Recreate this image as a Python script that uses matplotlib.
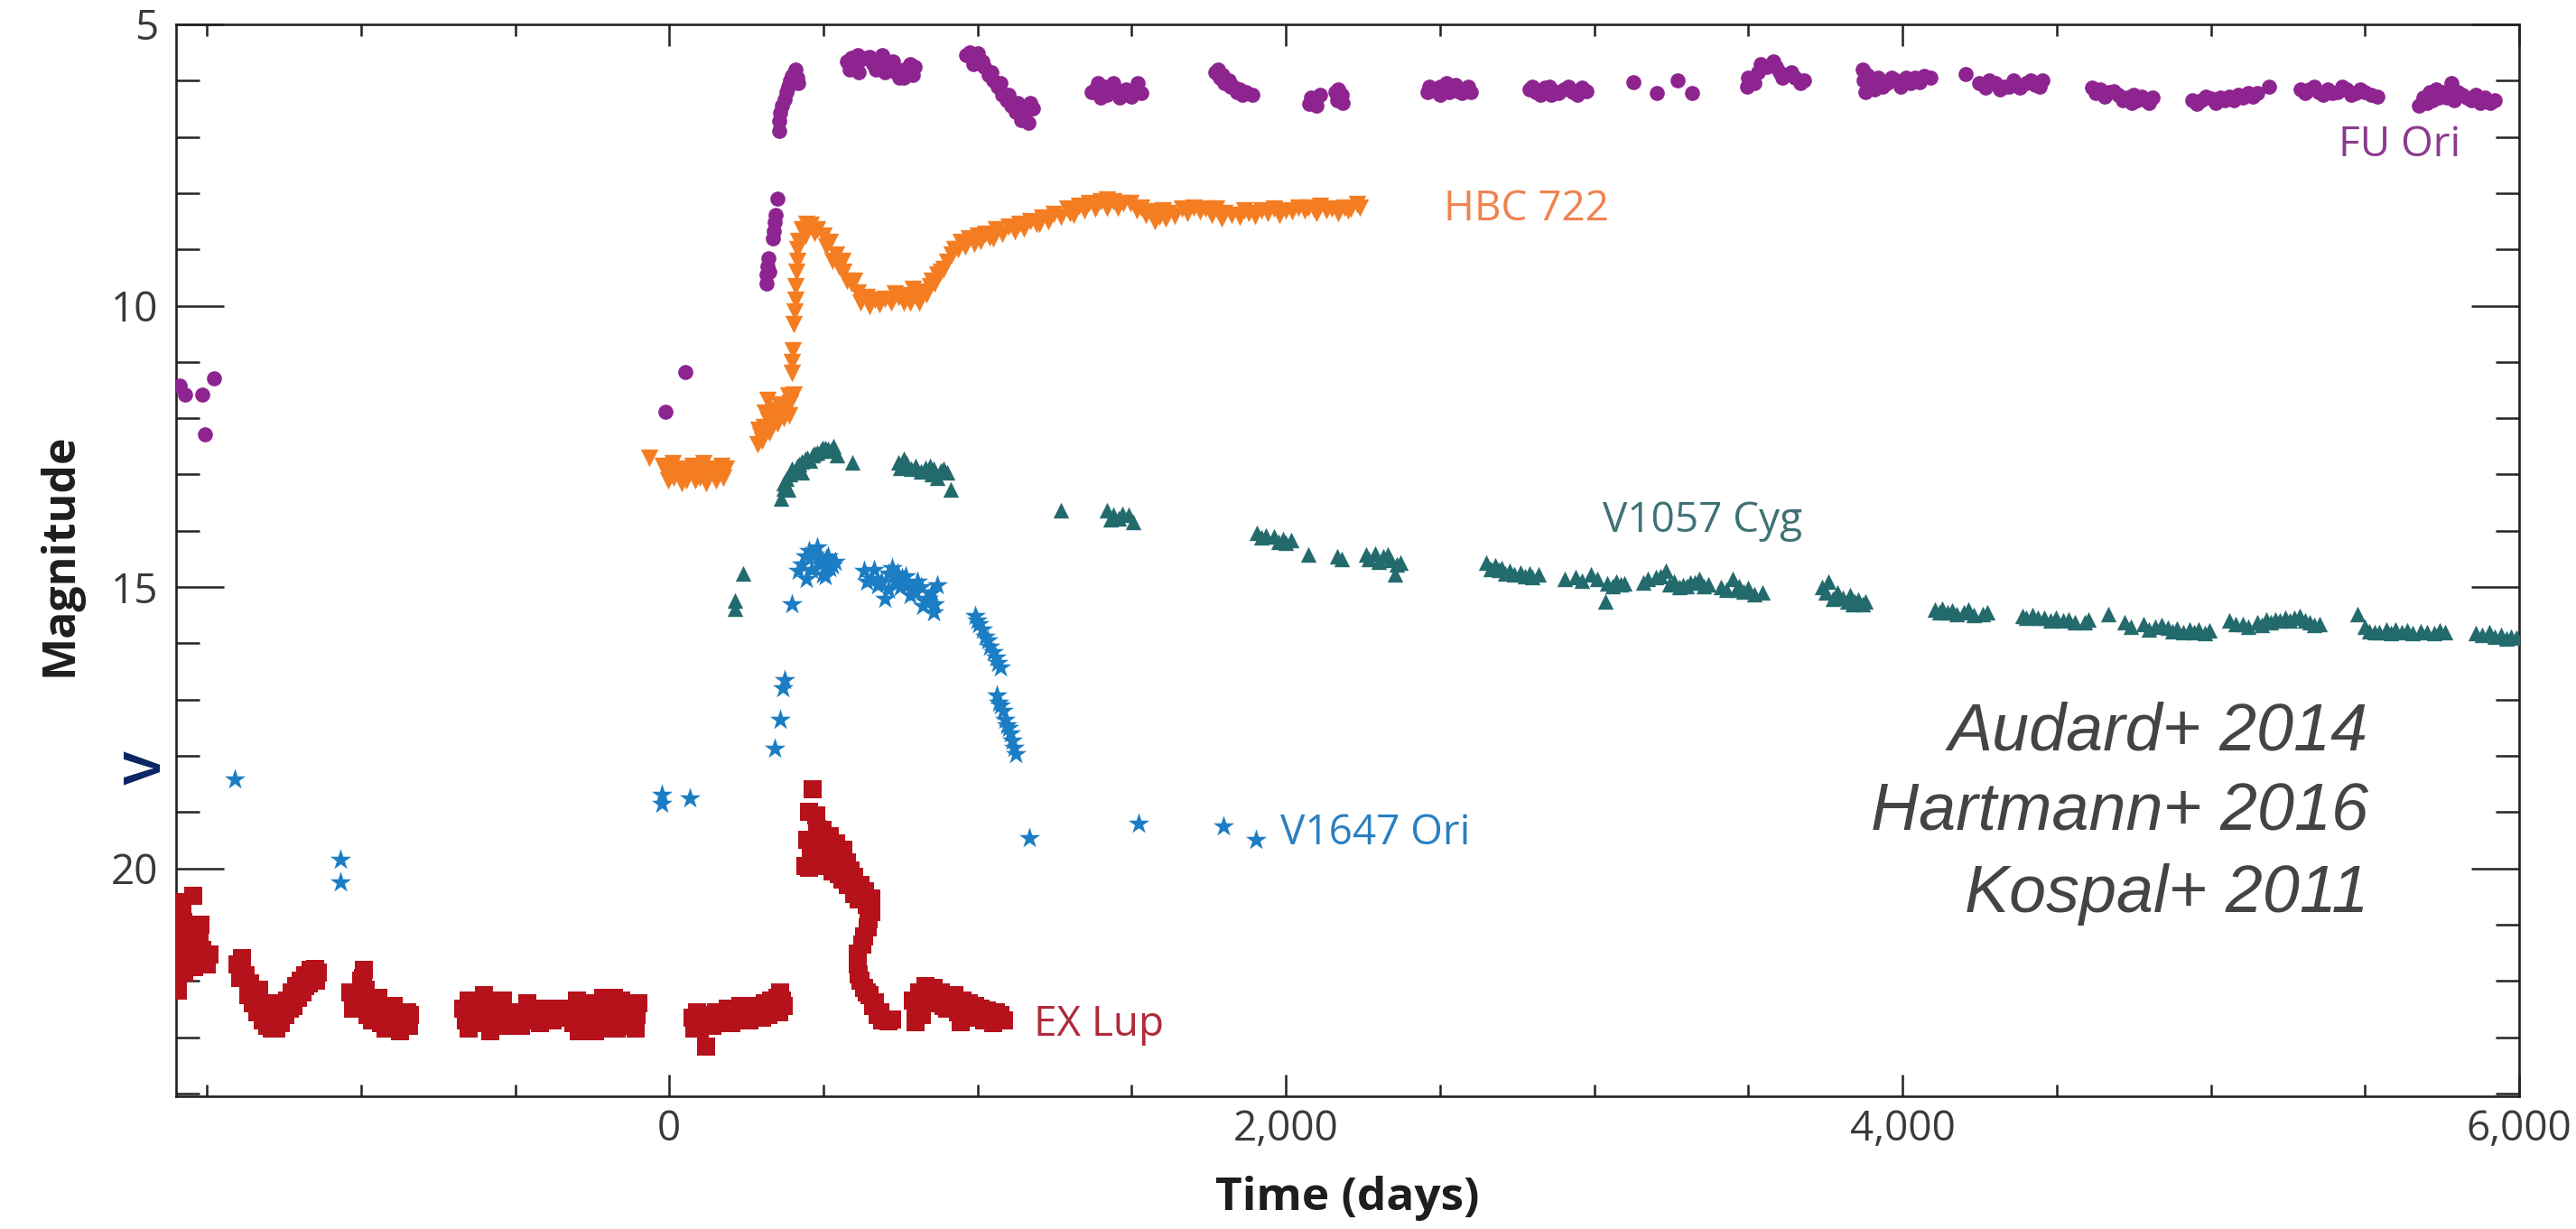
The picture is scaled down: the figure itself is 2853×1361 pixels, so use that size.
import matplotlib
matplotlib.use("Agg")
import matplotlib.pyplot as plt
from matplotlib.ticker import MultipleLocator, FixedLocator

# ---------------- data: (time [days], magnitude) ----------------
fu_ori = [
    (-1589, 11.42), (-1572, 11.58), (-1516, 11.58), (-1478, 11.29), (-1507, 12.28), (-12, 11.88), (53, 11.18),
    (350, 8.09), (345, 8.38), (343, 8.52), (340, 8.68), (337, 8.80), (322, 9.15), (318, 9.30), (314, 9.45), (316, 9.60), (325, 9.40),
    (357, 6.89), (355, 6.72), (360, 6.58), (366, 6.45), (375, 6.34), (380, 6.20), (386, 6.10), (392, 6.00), (398, 5.91),
    (405, 5.85), (410, 5.80), (419, 6.04), (415, 5.95),
    (575, 5.65), (590, 5.60), (605, 5.70), (620, 5.62), (640, 5.60), (660, 5.70), (680, 5.66), (700, 5.62), (720, 5.75),
    (735, 5.85), (745, 5.95), (760, 5.80), (780, 5.70), (795, 5.75), (700, 5.85), (650, 5.58), (760, 5.95),
    (585, 5.80), (615, 5.85), (670, 5.80), (725, 5.65), (690, 5.55), (610, 5.55), (770, 5.85), (790, 5.90),
    (963, 5.55), (975, 5.50), (990, 5.60), (1005, 5.62), (1020, 5.75), (1035, 5.90), (1050, 6.00), (1065, 6.10), (1080, 6.25),
    (1095, 6.35), (1110, 6.45), (1125, 6.55), (1140, 6.70), (1155, 6.55), (1170, 6.40), (1180, 6.50), (1000, 5.52),
    (985, 5.70), (1015, 5.65), (1045, 5.85), (1075, 6.05), (1100, 6.25), (1130, 6.40), (1150, 6.65), (1165, 6.75),
    (1370, 6.20), (1390, 6.05), (1410, 6.10), (1430, 6.20), (1450, 6.15), (1470, 6.25), (1490, 6.20), (1510, 6.15), (1530, 6.22),
    (1400, 6.30), (1460, 6.30), (1380, 6.15), (1420, 6.25), (1440, 6.05), (1480, 6.15), (1500, 6.28), (1520, 6.05),
    (1770, 5.85), (1785, 5.95), (1800, 6.05), (1815, 6.00), (1830, 6.10), (1850, 6.15), (1870, 6.20), (1890, 6.25),
    (1780, 5.80), (1795, 5.90), (1820, 6.10), (1840, 6.20), (1860, 6.25),
    (2075, 6.42), (2095, 6.35), (2110, 6.25), (2160, 6.20), (2175, 6.30), (2185, 6.40), (2170, 6.15),
    (2080, 6.30), (2100, 6.45), (2165, 6.35), (2180, 6.25),
    (2460, 6.20), (2480, 6.15), (2500, 6.10), (2520, 6.05), (2540, 6.12), (2560, 6.18), (2580, 6.15), (2600, 6.20), (2500, 6.25),
    (2465, 6.10), (2490, 6.20), (2510, 6.18), (2530, 6.20), (2550, 6.08), (2570, 6.22), (2590, 6.10),
    (2790, 6.15), (2810, 6.20), (2840, 6.12), (2870, 6.18), (2900, 6.15), (2930, 6.20), (2960, 6.12), (2975, 6.18), (2860, 6.25),
    (2800, 6.10), (2825, 6.25), (2855, 6.10), (2885, 6.22), (2915, 6.10), (2945, 6.25),
    (3128, 6.03), (3202, 6.22), (3269, 5.99), (3316, 6.22),
    (3495, 6.10), (3510, 6.00), (3530, 5.85), (3560, 5.75), (3580, 5.65), (3600, 5.85), (3620, 5.90), (3650, 5.95), (3680, 6.00),
    (3500, 5.95), (3520, 6.05), (3540, 5.70), (3590, 5.75), (3610, 5.95), (3640, 5.85), (3670, 6.05),
    (3870, 5.80), (3875, 6.00), (3880, 6.20), (3900, 6.10), (3920, 5.95), (3950, 6.05), (3980, 6.00), (4010, 5.95), (4040, 5.95),
    (4070, 5.92), (4090, 5.95), (3885, 5.90), (3910, 6.15), (3935, 6.10), (3965, 5.95), (3995, 6.10), (4025, 6.05), (4055, 6.02),
    (4205, 5.89), (4250, 6.05), (4270, 6.12), (4300, 6.05), (4330, 6.10), (4360, 6.00), (4400, 6.05), (4430, 6.08), (4455, 6.00),
    (4280, 6.00), (4315, 6.15), (4345, 6.10), (4380, 6.12), (4415, 6.00), (4445, 6.10),
    (4615, 6.12), (4640, 6.15), (4670, 6.20), (4700, 6.25), (4730, 6.30), (4760, 6.35), (4790, 6.35), (4810, 6.30), (4750, 6.25),
    (4625, 6.22), (4655, 6.28), (4685, 6.18), (4715, 6.35), (4745, 6.40), (4775, 6.28), (4800, 6.40),
    (4940, 6.35), (4970, 6.35), (5000, 6.32), (5030, 6.30), (5060, 6.28), (5090, 6.25), (5120, 6.22), (5150, 6.22), (5190, 6.10),
    (4955, 6.42), (4985, 6.28), (5015, 6.40), (5045, 6.35), (5075, 6.35), (5105, 6.30), (5135, 6.28),
    (5290, 6.15), (5320, 6.15), (5350, 6.20), (5380, 6.15), (5410, 6.20), (5440, 6.15), (5470, 6.22), (5500, 6.20), (5540, 6.28),
    (5305, 6.22), (5335, 6.10), (5365, 6.25), (5395, 6.22), (5425, 6.10), (5455, 6.25), (5485, 6.15), (5520, 6.25),
    (5675, 6.45), (5690, 6.30), (5710, 6.20), (5730, 6.15), (5750, 6.20), (5780, 6.05), (5800, 6.20), (5830, 6.30), (5860, 6.25),
    (5890, 6.30), (5920, 6.35), (5700, 6.40), (5720, 6.35), (5740, 6.30), (5765, 6.30), (5790, 6.35), (5815, 6.25), (5845, 6.35),
    (5875, 6.40), (5905, 6.40),
]

hbc_722 = [
    (-65, 12.71), (-20, 12.85), (0, 12.95), (15, 13.05), (30, 12.90), (45, 13.00), (60, 12.95), (75, 12.85), (90, 12.90),
    (100, 13.05), (115, 12.95), (130, 12.90), (145, 13.00), (160, 12.95), (175, 13.05), (185, 12.90), (40, 13.15), (120, 13.15),
    (-5, 13.10), (10, 12.80), (55, 13.10), (85, 13.10), (150, 13.10), (170, 12.85), (110, 12.80),
    (285, 12.47), (295, 12.30), (307, 12.16), (320, 12.05), (331, 12.04), (345, 11.95), (363, 11.91), (378, 11.80), (392, 11.73),
    (319, 11.67), (403, 11.58), (300, 12.40), (350, 12.10), (390, 11.95), (290, 12.20), (310, 11.90), (335, 11.85), (355, 11.75),
    (370, 12.00), (385, 11.60), (325, 12.25),
    (398, 11.20), (398, 11.00), (400, 10.80),
    (404, 10.33), (406, 10.10), (408, 9.90), (410, 9.65), (412, 9.40), (414, 9.20), (416, 9.00), (419, 8.85),
    (430, 8.65), (445, 8.55), (460, 8.56), (480, 8.65), (500, 8.75), (521, 8.86), (540, 9.10), (565, 9.40), (590, 9.60),
    (610, 9.77), (640, 9.85), (666, 9.90), (700, 9.88), (743, 9.84), (770, 9.82), (800, 9.83), (820, 9.75), (846, 9.65),
    (870, 9.45), (901, 9.22), (925, 9.00), (946, 8.86), (970, 8.80), (1000, 8.75), (1024, 8.73), (1060, 8.65), (1100, 8.60),
    (1136, 8.55), (1170, 8.50), (1210, 8.43), (1248, 8.37), (1290, 8.28), (1330, 8.22), (1361, 8.18), (1400, 8.14), (1440, 8.15),
    (1472, 8.18), (1495, 8.17), (1530, 8.25), (1560, 8.32), (1589, 8.42), (1620, 8.35), (1662, 8.28), (1700, 8.25), (1740, 8.28),
    (1773, 8.28), (1800, 8.35), (1850, 8.42), (1880, 8.35), (1920, 8.30), (1961, 8.28), (2000, 8.30), (2040, 8.25), (2073, 8.25),
    (2110, 8.22), (2150, 8.28), (2190, 8.25), (2241, 8.25),
    (560, 9.20), (600, 9.55), (720, 9.95), (780, 9.95), (850, 9.55), (880, 9.40), (1050, 8.80), (1200, 8.55), (1300, 8.35),
    (1420, 8.25), (1610, 8.45), (1760, 8.38), (1900, 8.40), (2100, 8.35), (2200, 8.30),
    (440, 8.75), (470, 8.70), (510, 8.95), (530, 9.20), (550, 9.30), (575, 9.55), (620, 9.95), (650, 10.00), (680, 9.98),
    (730, 9.78), (760, 9.95), (790, 9.70), (810, 9.95), (835, 9.80), (860, 9.60), (890, 9.35), (915, 9.10), (935, 9.00),
    (960, 8.95), (990, 8.90), (1010, 8.85), (1040, 8.78), (1080, 8.72), (1120, 8.68), (1150, 8.62), (1190, 8.55), (1230, 8.50),
    (1270, 8.42), (1310, 8.38), (1345, 8.30), (1380, 8.28), (1420, 8.12), (1455, 8.25), (1515, 8.30), (1545, 8.38), (1575, 8.50),
    (1600, 8.30), (1640, 8.40), (1680, 8.35), (1720, 8.32), (1790, 8.45), (1825, 8.38), (1865, 8.30), (1940, 8.35), (1980, 8.38),
    (2020, 8.32), (2060, 8.30), (2090, 8.28), (2130, 8.30), (2170, 8.35), (2210, 8.28), (2230, 8.20),
]

v1057_cyg = [
    (240, 14.75), (212, 15.24), (212, 15.39),
    (363, 13.42), (372, 13.25), (380, 13.08), (386, 13.26), (398, 12.90), (415, 12.85), (430, 12.77), (430, 12.96), (448, 12.70),
    (465, 12.65), (480, 12.60), (498, 12.53), (515, 12.55), (532, 12.50), (543, 12.65), (593, 12.78),
    (370, 13.15), (392, 13.00), (405, 12.95), (422, 12.82), (440, 12.72), (456, 12.75), (472, 12.62), (490, 12.58), (507, 12.52), (523, 12.58),
    (743, 12.78), (770, 12.80), (800, 12.84), (830, 12.88), (857, 12.90), (880, 12.93), (901, 12.96), (913, 13.26), (760, 12.72), (850, 13.00),
    (750, 12.88), (785, 12.90), (815, 12.95), (845, 12.85), (870, 13.05), (890, 12.90),
    (1270, 13.64), (1419, 13.64), (1440, 13.72), (1457, 13.78), (1504, 13.85), (1490, 13.72), (1430, 13.80), (1470, 13.70),
    (1905, 14.03), (1935, 14.08), (1961, 14.10), (1990, 14.14), (2017, 14.17), (1920, 14.12), (1975, 14.20), (2000, 14.22),
    (2073, 14.42), (2166, 14.46), (2180, 14.50), (2259, 14.42), (2270, 14.50), (2290, 14.40), (2300, 14.55), (2315, 14.46),
    (2330, 14.42), (2340, 14.52), (2360, 14.60), (2372, 14.57), (2353, 14.78),
    (2651, 14.57), (2665, 14.68), (2680, 14.62), (2690, 14.70), (2700, 14.66), (2710, 14.75), (2727, 14.71), (2740, 14.78),
    (2760, 14.74), (2775, 14.80), (2790, 14.76), (2800, 14.82), (2820, 14.78), (2903, 14.86), (2940, 14.82), (2960, 14.88),
    (2988, 14.78), (3010, 14.85), (3043, 14.93), (3035, 15.25), (3060, 14.98), (3070, 14.90), (3085, 14.95), (3099, 14.93),
    (3160, 14.92), (3175, 14.86), (3200, 14.82), (3215, 14.80), (3231, 14.71), (3245, 14.95), (3260, 14.90), (3275, 15.00),
    (3287, 14.96), (3300, 14.98), (3310, 14.92), (3325, 14.92), (3342, 14.86), (3355, 14.98), (3370, 14.95),
    (3410, 15.00), (3430, 15.04), (3448, 14.86), (3460, 15.05), (3470, 14.98), (3485, 15.08), (3500, 15.02), (3520, 15.12), (3547, 15.10),
    (3740, 15.00), (3750, 15.10), (3760, 14.90), (3775, 15.20), (3790, 15.10), (3805, 15.19), (3820, 15.25), (3830, 15.15),
    (3840, 15.30), (3845, 15.25), (3857, 15.22), (3870, 15.30), (3880, 15.25),
    (4106, 15.40), (4120, 15.45), (4130, 15.38), (4145, 15.45), (4160, 15.42), (4175, 15.48), (4200, 15.45), (4214, 15.40),
    (4230, 15.50), (4260, 15.48), (4276, 15.44),
    (4390, 15.51), (4400, 15.55), (4420, 15.50), (4440, 15.55), (4460, 15.55), (4480, 15.60), (4498, 15.55), (4520, 15.60),
    (4540, 15.58), (4560, 15.62), (4590, 15.62), (4604, 15.58), (4667, 15.48),
    (4720, 15.62), (4740, 15.70), (4782, 15.66), (4800, 15.75), (4820, 15.70), (4840, 15.68), (4860, 15.72), (4875, 15.78),
    (4889, 15.73), (4910, 15.80), (4930, 15.75), (4945, 15.80), (4960, 15.76), (4980, 15.82), (4996, 15.77),
    (5060, 15.60), (5080, 15.65), (5103, 15.66), (5120, 15.70), (5150, 15.62), (5165, 15.68), (5180, 15.58), (5195, 15.62),
    (5210, 15.58), (5225, 15.60), (5240, 15.55), (5255, 15.60), (5270, 15.55), (5289, 15.51), (5305, 15.60), (5320, 15.62),
    (5335, 15.68), (5353, 15.66),
    (5476, 15.48), (5500, 15.70), (5515, 15.78), (5530, 15.80), (5545, 15.80), (5570, 15.75), (5585, 15.82), (5600, 15.76),
    (5620, 15.80), (5637, 15.77), (5655, 15.82), (5680, 15.78), (5700, 15.80), (5725, 15.82), (5742, 15.77), (5760, 15.80),
    (5860, 15.82), (5880, 15.85), (5903, 15.80), (5920, 15.88), (5940, 15.85), (5960, 15.92), (5975, 15.88), (5990, 15.90),
]

v1647_ori = [
    (-1411, 18.41), (-1068, 19.85), (-1068, 20.25),
    (-23, 18.69), (-23, 18.85), (67, 18.76),
    (342, 17.87), (358, 17.35), (369, 16.80), (375, 16.65), (397, 15.30),
    (419, 14.71), (440, 14.45), (454, 14.35), (470, 14.42), (486, 14.54), (498, 14.78), (510, 14.50), (521, 14.66), (530, 14.62),
    (430, 14.60), (462, 14.70), (478, 14.30), (492, 14.60), (505, 14.80), (515, 14.45), (537, 14.55), (445, 14.85),
    (632, 14.71), (655, 14.85), (677, 14.97), (700, 15.20), (722, 14.66), (740, 14.75), (756, 14.84), (775, 14.95), (790, 15.08),
    (805, 14.90), (822, 15.33), (840, 15.20), (857, 15.45), (868, 14.97),
    (640, 14.90), (665, 14.70), (688, 14.90), (710, 15.05), (730, 14.90), (748, 15.00), (765, 14.80), (782, 15.15), (798, 15.10),
    (815, 15.00), (830, 15.25), (850, 15.10), (860, 15.30), (712, 14.75),
    (991, 15.51), (998, 15.60), (1005, 15.65), (1015, 15.75), (1024, 15.88), (1032, 15.95), (1040, 16.05), (1050, 16.15),
    (1058, 16.25), (1066, 16.35), (1074, 16.43),
    (1062, 16.92), (1068, 17.05), (1075, 17.10), (1082, 17.20), (1090, 17.35), (1095, 17.45), (1100, 17.50), (1106, 17.60),
    (1113, 17.72), (1119, 17.85), (1125, 17.96),
    (1168, 19.46), (1522, 19.20), (1797, 19.25), (1902, 19.50),
]

ex_lup = [
    (-1545, 20.49), (-1590, 20.80), (-1577, 20.95), (-1560, 21.00), (-1595, 21.20), (-1570, 21.30), (-1545, 21.20), (-1530, 21.35),
    (-1515, 21.45), (-1493, 21.53), (-1500, 21.70), (-1585, 21.50), (-1560, 21.65), (-1590, 21.80), (-1600, 22.00), (-1595, 22.17),
    (-1540, 21.75), (-1520, 21.00), (-1598, 20.60), (-1580, 20.70), (-1565, 21.15), (-1550, 21.50), (-1535, 21.55), (-1525, 21.20),
    (-1508, 21.60), (-1598, 21.60), (-1575, 21.85), (-1555, 21.40), (-1598, 21.00),
    (-1400, 21.70), (-1385, 21.60), (-1375, 21.90), (-1360, 22.05), (-1345, 22.20), (-1330, 22.35), (-1315, 22.45), (-1300, 22.60),
    (-1285, 22.70), (-1270, 22.55), (-1255, 22.45), (-1240, 22.35), (-1225, 22.20), (-1210, 22.10), (-1195, 22.00), (-1180, 21.90),
    (-1165, 21.80), (-1150, 21.78), (-1140, 21.85), (-1330, 22.15), (-1280, 22.40), (-1230, 22.50), (-1180, 22.10),
    (-1392, 21.95), (-1365, 22.25), (-1350, 22.40), (-1335, 22.55), (-1320, 22.70), (-1305, 22.80), (-1290, 22.85), (-1275, 22.85),
    (-1260, 22.75), (-1245, 22.60), (-1220, 22.45), (-1205, 22.30), (-1190, 22.20), (-1170, 22.05), (-1155, 21.95), (-1145, 22.00),
    (-1035, 22.20), (-1020, 22.30), (-1000, 22.00), (-990, 21.80), (-985, 22.15), (-975, 22.35), (-960, 22.45), (-945, 22.30),
    (-930, 22.50), (-910, 22.60), (-895, 22.45), (-880, 22.70), (-865, 22.80), (-850, 22.55), (-840, 22.60), (-900, 22.80),
    (-1025, 22.50), (-1010, 22.20), (-995, 22.45), (-980, 22.60), (-965, 22.70), (-950, 22.60), (-935, 22.75), (-920, 22.85),
    (-905, 22.60), (-890, 22.85), (-875, 22.90), (-860, 22.75), (-845, 22.80), (-995, 21.95),
    (-670, 22.50), (-650, 22.35), (-630, 22.40), (-610, 22.60), (-590, 22.50), (-570, 22.70), (-550, 22.55), (-530, 22.60),
    (-510, 22.60), (-490, 22.55), (-470, 22.60), (-450, 22.60), (-430, 22.55), (-410, 22.50), (-390, 22.55), (-370, 22.50),
    (-620, 22.75), (-560, 22.80), (-500, 22.70), (-440, 22.70), (-600, 22.25), (-660, 22.70), (-640, 22.60), (-600, 22.75),
    (-580, 22.35), (-540, 22.35), (-520, 22.80), (-480, 22.80), (-460, 22.40), (-420, 22.75), (-400, 22.70), (-380, 22.70),
    (-360, 22.65), (-650, 22.85), (-580, 22.90),
    (-315, 22.50), (-300, 22.35), (-285, 22.60), (-270, 22.80), (-255, 22.55), (-240, 22.40), (-225, 22.60), (-210, 22.85),
    (-195, 22.50), (-180, 22.30), (-165, 22.60), (-150, 22.80), (-135, 22.50), (-120, 22.40), (-105, 22.60), (-240, 22.90),
    (-180, 22.85), (-310, 22.75), (-295, 22.90), (-280, 22.40), (-260, 22.90), (-245, 22.70), (-230, 22.85), (-215, 22.30),
    (-200, 22.75), (-185, 22.60), (-170, 22.85), (-155, 22.35), (-140, 22.75), (-125, 22.70), (-110, 22.85), (-100, 22.40),
    (75, 22.65), (90, 22.55), (110, 22.70), (120, 23.17), (130, 22.60), (150, 22.55), (170, 22.60), (190, 22.50), (210, 22.55),
    (230, 22.45), (250, 22.50), (270, 22.45), (290, 22.50), (310, 22.40), (330, 22.35), (350, 22.30), (365, 22.35), (100, 22.85),
    (200, 22.75), (300, 22.65), (355, 22.55), (80, 22.85), (95, 22.75), (140, 22.80), (160, 22.70), (180, 22.75), (220, 22.70),
    (240, 22.65), (260, 22.70), (280, 22.60), (320, 22.60), (340, 22.50), (360, 22.20), (370, 22.45),
    (465, 18.60), (454, 19.00), (476, 19.06), (498, 19.31), (521, 19.43), (454, 19.99), (440, 19.95), (500, 19.60), (521, 19.93),
    (545, 19.80), (565, 19.67), (575, 19.90), (588, 20.04), (600, 20.15), (620, 20.29), (635, 20.40), (655, 20.54), (655, 20.78),
    (640, 20.65), (632, 21.21), (610, 21.51), (615, 21.88), (632, 22.13), (650, 22.25), (666, 22.38), (685, 22.55), (700, 22.68),
    (722, 22.68), (800, 22.74), (480, 19.30), (540, 19.55),
    (448, 19.50), (460, 19.70), (470, 19.85), (485, 19.75), (510, 19.95), (530, 20.05), (550, 20.10), (560, 20.20), (580, 20.30),
    (600, 20.45), (615, 20.55), (630, 20.45), (645, 20.90), (642, 21.05), (625, 21.35), (612, 21.70), (620, 22.00), (640, 22.20),
    (660, 22.45), (675, 22.60), (690, 22.70), (710, 22.72),
    (789, 22.35), (810, 22.20), (830, 22.10), (857, 22.13), (880, 22.20), (900, 22.25), (924, 22.25), (950, 22.35), (970, 22.40),
    (991, 22.44), (1010, 22.50), (1030, 22.52), (1058, 22.55), (1075, 22.60), (946, 22.74), (980, 22.65), (1020, 22.70),
    (860, 22.40), (900, 22.50), (800, 22.50), (820, 22.45), (845, 22.30), (870, 22.35), (890, 22.45), (915, 22.50), (935, 22.55),
    (960, 22.55), (1000, 22.60), (1040, 22.65), (1065, 22.68), (1085, 22.70), (1050, 22.75), (820, 22.60),
]

series_names = ["FU Ori", "HBC 722", "V1057 Cyg", "V1647 Ori", "EX Lup"]
x_tick_vals = [0, 2000, 4000, 6000]
x_tick_labels = ["0", "2,000", "4,000", "6,000"]
y_tick_vals = [5, 10, 15, 20]
y_tick_labels = ["5", "10", "15", "20"]
refs = ["Audard+ 2014", "Hartmann+ 2016", "Kospal+ 2011"]

# ---------------- figure ----------------
W, H = 2853, 1361
fig = plt.figure(figsize=(W / 100, H / 100), dpi=100)
fig.patch.set_facecolor("white")
L, R, T, B = 195, 2790, 27, 1214
ax = fig.add_axes([L / W, 1 - B / H, (R - L) / W, (B - T) / H])

font = "Open Sans"
tick_col = "#3a3a3a"
c_fu, c_hbc, c_cyg, c_v16, c_ex = "#8e2490", "#f47d22", "#236a6d", "#1b7dc3", "#b5121b"


def xy(pts):
    return [p[0] for p in pts], [p[1] for p in pts]


ax.scatter(*xy(ex_lup), marker="s", s=14.0 ** 2, color=c_ex, linewidths=0, zorder=3)
ax.scatter(*xy(v1647_ori), marker="*", s=17.5 ** 2, color=c_v16, linewidths=0, zorder=3)
ax.scatter(*xy(v1057_cyg), marker="^", s=12.5 ** 2, color=c_cyg, linewidths=0, zorder=3)
ax.scatter(*xy(hbc_722), marker="v", s=14 ** 2, color=c_hbc, linewidths=0, zorder=3)
ax.scatter(*xy(fu_ori), marker="o", s=12 ** 2, color=c_fu, linewidths=0, zorder=3)

ax.set_xlim(-1600, 6000)
ax.set_ylim(24.05, 5)

ax.xaxis.set_major_locator(FixedLocator(x_tick_vals))
ax.set_xticklabels(x_tick_labels)
ax.xaxis.set_minor_locator(MultipleLocator(500))
ax.yaxis.set_major_locator(FixedLocator(y_tick_vals))
ax.set_yticklabels(y_tick_labels)
ax.yaxis.set_minor_locator(MultipleLocator(1))

ax.tick_params(axis="both", which="both", direction="in", top=True, right=True, width=1.8, color="#222222")
ax.tick_params(axis="x", which="major", length=17.5, pad=10, labelsize=33, labelcolor=tick_col)
ax.tick_params(axis="x", which="minor", length=9.5)
ax.tick_params(axis="y", which="major", length=38, pad=14, labelsize=33, labelcolor=tick_col)
ax.tick_params(axis="y", which="minor", length=19)
for lab in ax.get_xticklabels() + ax.get_yticklabels():
    lab.set_fontfamily(font)
for sp in ax.spines.values():
    sp.set_linewidth(1.9)
    sp.set_color("#222222")

# axis labels
fig.text(1492 / W, 1 - 1340 / H, "Time (days)", ha="center", va="baseline",
         fontsize=37, fontweight="bold", family=font, color="#1e1e1e")
fig.text(80 / W, 1 - 614 / H, "Magnitude", ha="center", va="baseline", rotation=90,
         rotation_mode="anchor", fontsize=36, fontweight="bold", family=font, color="#1e1e1e")
fig.text(178 / W, 1 - 850 / H, "V", ha="center", va="baseline", rotation=90,
         rotation_mode="anchor", fontsize=41, fontweight="bold", family="Liberation Sans", color="#0b2564")

# series labels
lab_pos = [(5414, 7.35), (2512, 8.49), (3026, 14.02), (1981, 19.58), (1182, 22.98)]
lab_col = ["#8b3a8e", "#ef8350", "#3e7275", "#2b7fc0", "#b02a3a"]
for name, (tx, my), col in zip(series_names, lab_pos, lab_col):
    ax.text(tx, my, name, ha="left", va="baseline", fontsize=33, family=font, color=col)

# references
ref_y = [17.9, 19.32, 20.78]
for txt, yy in zip(refs, ref_y):
    ax.text(5511, yy, txt, ha="right", va="baseline", fontsize=53, style="italic",
            family="Liberation Sans", color="#444444")

fig.savefig("out.png", dpi=100)
